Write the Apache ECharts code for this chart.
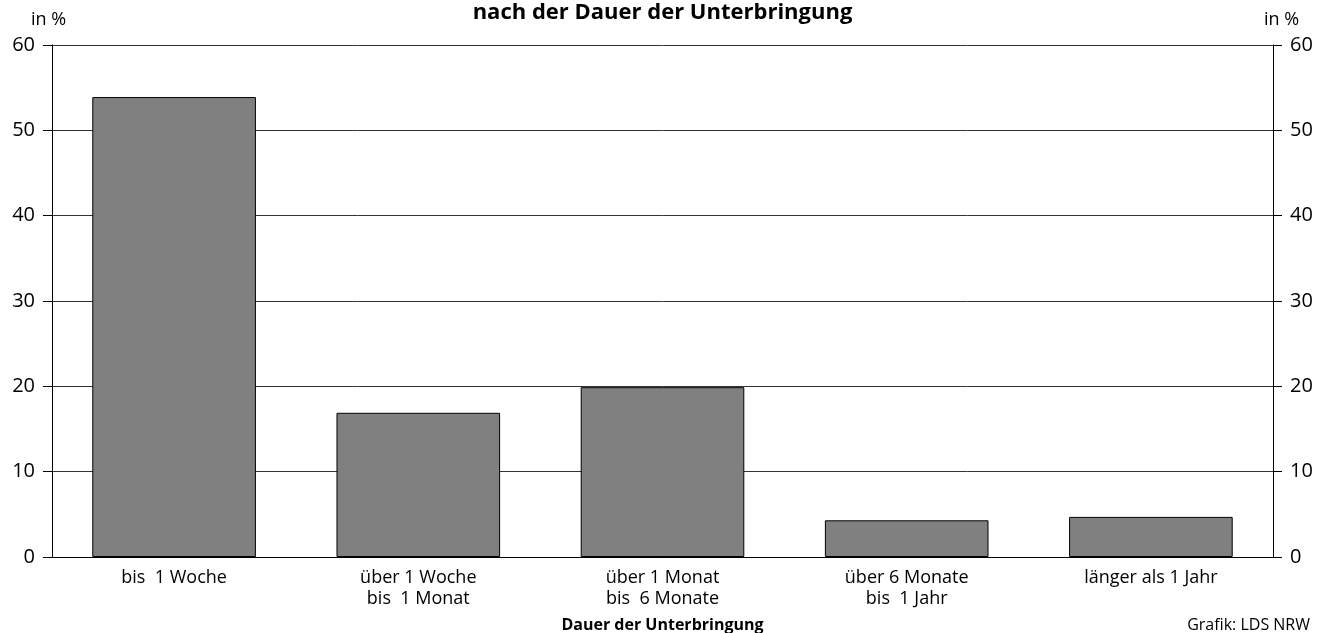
<!DOCTYPE html>
<html>
<head>
<meta charset="utf-8">
<script src="https://cdn.jsdelivr.net/npm/echarts@6/dist/echarts.min.js"></script>
<style>
  html, body { margin: 0; padding: 0; background: #fff; }
  #main { width: 1325px; height: 633px; }
</style>
</head>
<body>
<div id="main"></div>
<script>
  // Dauer der Unterbringung (Kategorien) und Anteile in %
  const categories = ['bis  1 Woche', 'über 1 Woche\nbis  1 Monat', 'über 1 Monat\nbis  6 Monate', 'über 6 Monate\nbis  1 Jahr', 'länger als 1 Jahr']
  const shares = [53.9, 16.9, 19.9, 4.3, 4.7]
  const yTicks = [0, 10, 20, 30, 40, 50, 60]

  const font = 'Open Sans'
  const chart = echarts.init(document.getElementById('main'))

  const yAxisBase = {
    type: 'value',
    min: yTicks[0],
    max: yTicks[yTicks.length - 1],
    interval: 10,
    axisLine: { show: true, lineStyle: { color: '#000', width: 1 } },
    axisTick: { show: true, length: 9, lineStyle: { color: '#000' } },
    axisLabel: { color: '#000', fontSize: 20, fontFamily: font, margin: 17 }
  }

  chart.setOption({
    animation: false,
    title: [{
      text: 'nach der Dauer der Unterbringung',
      left: 'center',
      top: -3,
      textStyle: { fontSize: 22, fontWeight: 'bold', fontFamily: font, color: '#000' }
    }, {
      text: 'in %',
      left: 26,
      top: 6,
      textStyle: { fontSize: 18, fontWeight: 'normal', fontFamily: font, color: '#000' }
    }, {
      text: 'in %',
      left: 1259,
      top: 6,
      textStyle: { fontSize: 18, fontWeight: 'normal', fontFamily: font, color: '#000' }
    }, {
      text: 'Grafik: LDS NRW',
      right: 10,
      top: 612,
      textStyle: { fontSize: 16, fontWeight: 'normal', fontFamily: font, color: '#000' }
    }],
    grid: { left: 52, right: 52, top: 45, bottom: 76, outerBoundsMode: 'none' },
    xAxis: {
      type: 'category',
      data: categories,
      name: 'Dauer der Unterbringung',
      nameLocation: 'middle',
      nameGap: 60,
      nameTextStyle: { fontSize: 16, fontWeight: 'bold', fontFamily: font, color: '#000' },
      axisLine: { show: true, lineStyle: { color: '#000', width: 1 } },
      axisTick: { show: false },
      axisLabel: { color: '#000', fontSize: 18, fontFamily: font, lineHeight: 21, margin: 10 }
    },
    yAxis: [
      Object.assign({}, yAxisBase, {
        position: 'left',
        splitLine: { show: true, lineStyle: { color: '#333', width: 1 } }
      }),
      Object.assign({}, yAxisBase, {
        position: 'right',
        splitLine: { show: false }
      })
    ],
    series: [{
      type: 'bar',
      data: shares,
      barWidth: '67%',
      itemStyle: { color: '#808080', borderColor: '#000', borderWidth: 1 }
    }]
  })
</script>
</body>
</html>
